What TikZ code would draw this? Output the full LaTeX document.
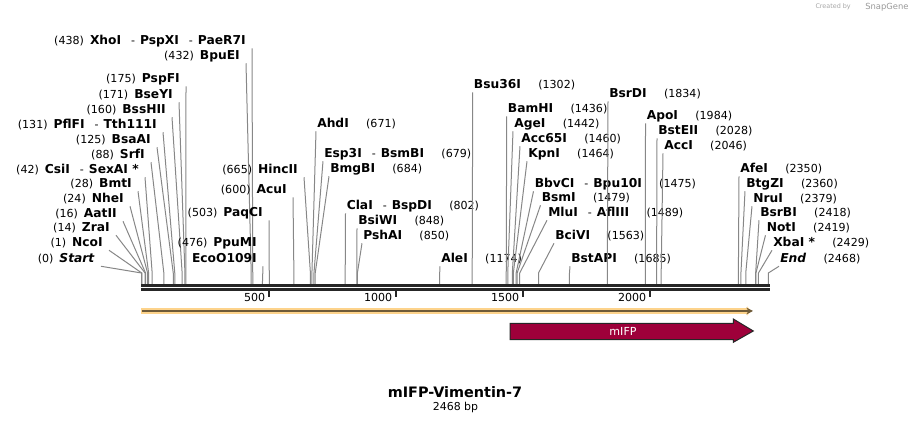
\documentclass[tikz,border=0pt]{standalone}
\usepackage{fontspec}
\setmainfont{DejaVu Sans}
\usetikzlibrary{arrows.meta}
\definecolor{sitegray}{RGB}{135,135,135}
\definecolor{spine}{RGB}{38,38,38}
\definecolor{orfpale}{HTML}{FDD38B}
\definecolor{orfdark}{HTML}{6E5A38}
\definecolor{mifpred}{HTML}{9E003A}
\tikzset{>=stealth}
\tikzset{
  enzleft/.style={anchor=east,inner xsep=4.5pt,inner ysep=0.75pt,text height=6pt,text depth=1.5pt},
  enzright/.style={anchor=west,inner xsep=0.75pt,inner ysep=0.75pt,text height=6pt,text depth=1.5pt},
  cutline/.style={draw=sitegray,line width=0.75pt},
}
\newcommand{\posfont}{\fontsize{8.3}{10}\selectfont}
\newcommand{\enzfont}{\fontsize{9.2}{11}\selectfont\bfseries}
\newcommand{\dsh}{\textmd{\posfont\hspace{0.9em}-\hspace{0.45em}}}
\newcommand{\bpx}[1]{141.5+0.254*#1}

\begin{document}
\begin{tikzpicture}[x=0.75pt,y=-0.75pt]
    \useasboundingbox (0,0) rectangle (911,423);
    % enzymes written left of their cut site
    \foreach \y/\xa/\bp/\name [count=\i] in {
        42/252/438/{XhoI\dsh PspXI\dsh PaeR7I}, 57/246/432/BpuEI,
        80/186/175/PspFI, 96/179/171/BseYI, 111/172/160/BssHII,
        126/163/131/{PflFI\dsh Tth111I}, 141/157/125/BsaAI, 156/151/88/SrfI,
        171/145/42/{CsiI\dsh SexAI *}, 185/138/28/BmtI, 200/130/24/NheI,
        215/123/16/AatII, 229/116/14/ZraI, 244/109/1/NcoI,
        260/101/0/{\textit{Start}},
        171/304/665/HincII, 191/293/600/AcuI, 214/269/503/PaqCI}{
        \node[enzleft] (l\i) at (\xa,\y) {{\posfont(\bp)}\hspace{0.45em}{\enzfont\name}};
        \draw[cutline] (l\i.south east) -- ({\bpx{\bp}},273) -- ({\bpx{\bp}},284);
    }
    \node[enzleft] (ppu) at (263,244) {{\posfont(476)}\hspace{0.45em}{\enzfont PpuMI}};
    \node[enzleft] (eco) at (263,260) {{\enzfont EcoO109I}};
    \draw[cutline] (eco.south east) -- ({\bpx{476}},284);
    % enzymes written right of their cut site
    \foreach \y/\xa/\bp/\name [count=\i] in {
        125/316/671/AhdI, 155/323/679/{Esp3I\dsh BsmBI}, 170/329/684/BmgBI,
        207/345.5/802/{ClaI\dsh BspDI}, 222/357/848/BsiWI, 237/362/850/PshAI,
        260/440/1174/AleI, 86/472.7/1302/Bsu36I,
        110/506.7/1436/BamHI, 125/513/1442/AgeI, 140/520/1460/Acc65I,
        155/527/1464/KpnI, 185/533.5/1475/{BbvCI\dsh Bpu10I}, 199/540.5/1479/BsmI,
        214/547/1489/{MluI\dsh AflIII}, 237/554/1563/BciVI, 260/570/1685/BstAPI,
        95/608/1834/BsrDI, 117/645.5/1984/ApoI, 132/657/2028/BstEII,
        147/663/2046/AccI,
        170/739/2350/AfeI, 185/745/2360/BtgZI, 200/752/2379/NruI,
        214/759/2418/BsrBI, 229/765.5/2419/NotI, 244/772/2429/{XbaI *},
        260/779/2468/{\textit{End}}}{
        \node[enzright] (r\i) at (\xa,\y) {{\enzfont\name}\hspace{1.3em}{\posfont(\bp)}};
        \draw[cutline] (r\i.south west) -- ({\bpx{\bp}},273) -- ({\bpx{\bp}},284);
    }
    % backbone and scale
    \draw[spine,line width=2pt] (141,285.3) -- (770,285.3);
    \draw[spine,line width=2pt] (141,289.4) -- (770,289.4);
    \foreach \t in {500,1000,1500,2000}{
        \draw[spine,line width=1.5pt] ({\bpx{\t}},291) -- ({\bpx{\t}},297.5);
        \node[anchor=east,inner sep=0pt] (t\t) at ({\bpx{\t}-3},297) {\posfont\t};
    }
    % features
    \draw[orfpale,line width=4pt,-{Stealth[length=3pt,width=7pt]}] (141,311) -- (751,311);
    \draw[orfdark,line width=1pt,-{Stealth[length=5pt,width=5pt]}] (142,311) -- (753,311);
    \draw[fill=mifpred,draw=spine,line width=0.75pt] (510,323.3) -- (733.3,323.3) -- (733.3,319)
        -- (753.3,331) -- (733.3,342.3) -- (733.3,339.7) -- (510,339.7) -- cycle;
    \node[text=white] (mifp) at (623,331) {\posfont mIFP};
    % name
    \node (title) at (455,392) {\fontsize{10.8}{13}\selectfont\bfseries mIFP-Vimentin-7};
    \node (size) at (455.5,407) {\fontsize{8.2}{10}\selectfont 2468 bp};
    \node[text=gray!70,anchor=east,inner sep=0pt] (made) at (851,7) {\fontsize{4.8}{6}\selectfont Created by};
    \node[text=gray!80,anchor=west,inner sep=0pt] (snap) at (865,7) {\fontsize{6.3}{8}\selectfont SnapGene};
\end{tikzpicture}
\end{document}
